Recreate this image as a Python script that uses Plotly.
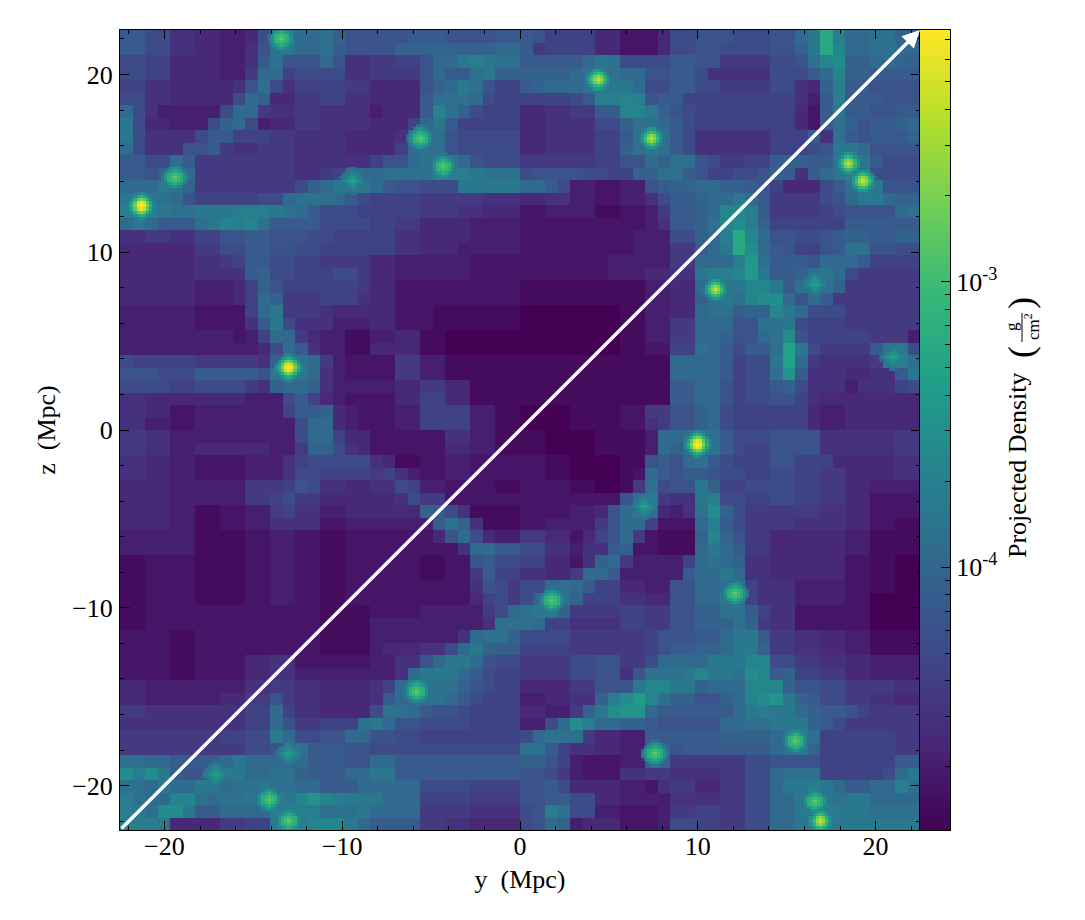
import plotly.graph_objects as go
from plotly.subplots import make_subplots
import math

DENSITY_ROWS = [
"aa 88 55 44 33 48deccdb 9999 9a aa 9999 aa | a9 7777 44 222 4 88 99 9 888 99 cel fcc dd bb",
"aa 88 55 44 33 59deccda 9999 bbbbbbbb cc | a6 7777 44 222 4 88 99 8888 99 b e l g cc dd cc",
"88 77 44 44 33 5ad999c9 5566 77 9cc efedd | aaaa a c e d 8 888 aa 99 6666 88 9d g h bb cc bb",
"88 77 44 44 33 6cc7 8888 5566 66 9c aa de bb | bbbb c d e d cc 99 aa 8 55555 88 8a c g bb aaaa",
"77 55 44 444 5 9d85 7777 66 4444 9bc ed9 77 | a b cc c d e e e c 88 aa 88 6666 88 5 4 b f aa 9999",
"88 55 44 44 4 8 cb44 6677 55 4444 ad dd c 877 | 7777 8 a f f g f 9 a a 7 77 7777 77 5 3 a f aaa999",
"c8 5 33333 8 cc 6 55 66 5555 3444 a g d b 8777 | 44 5566 aa gg e b 9 8 77777777 4 2 a e aa 99 aa",
"e8 44 333 8 b c 8 3 44 66 5555 444 7 c e a 77777 | 44 5555 88 b d d c a 8 77777777 4 2 a d b 9 aa b c",
"e8 55 55 8 aa 777 66 55 55 44 44 5 b d d 9 88888 | 44 5555 77 a d e d a 8 555555 777 a 5 d a 9 aaab",
"c8 55 5 99 a 6 55 666 55 55 44 44 7 c d d 9 88888 | 44 5555 77 b d e d a 8 555555 777 8 9 e e c 9999",
"aa 88 c a 6 6666666 55 5555 7 99 c d e e c 9888 | 6666 6677 99 c b dd 9 8 66 77 a bb a a e f e a 888",
"aa 9 b d c 6 6666666 55 6 7 a cc d dd d g f f e ddd | 89 99 988 77 bb dd a 9 77 88 9 b a 5 a c e f e 8888",
"ccc e d b 666666 66 8 b c e e e c a 99888 eeeee | cc a 8 33 22 33 9 a bb c c bb a9 7 44 4 8 a d f e 999",
"e f e d c 9 77777 88 c d d d c a 8 7777 666 66555 | 44 55 33 22 33 5 8 aa bc c e c a 6666 89 c e e cbb",
"f f f e d d e ee ff f e d c a 888 77777 666 55444 | 22 33 33 1122 3 6 aa bc gg f a 6666 78 9999 c d",
"c e c aaa de gfg d aa aa 8888 7766 44443333 | 222222 2222 3 5 aa bd gh f b 7777 77 aaaaaa",
"55 66 55 77 99 aa 999 88 77777 55 44443333 | 222222222 33 3 88 bc f l g c 99 88 9a bb aabb",
"444444 66 88 aa 99 88 7777 77 55 44433333 | 222222222 333 66 ac e l h c a9 77 9 a dd 9988",
"444444 55 6 7 aa 88 77 6666 44 33 33332222 | 222222 2333 33 66 c c c f j d aa a9 cc c a 7777",
"444444 55 5 5 a b 88 77 7 8 8 6 44 33 33332222 | 222222 2333 44 55 e f f g j e aa b d e c 8 66666",
"4444 44 33 34 7 b 9 777 777 6 44 222 2222222 | 11111111 11 33 44 c d e e gg e a d e d b 666666",
"4444 44 33 34 7 c b 666 777 5 44 222 2222222 | 11111111 11 33 44 b d e d gh h c 9 c a 6666666",
"3333 33 2222 7 c e 666 5 444 44 222 1111111 | 00000000 11 33 44 cd d a bb g e c 888 666666",
"3333 33 22 22 5 a e 8 555 333 44 222 1111111 | 00000000 11 33 66 cc c 9 9 d d e 8 777666666",
"3333 33 33 3 2 3 7 cc 6 4 33 11 3344 11 000000 | 00000000 11 33 66 cc b 9 9 cd h 9 777776663",
"3333 33 33 33 3 4 8 c a 5 33 11 4444 11 000000 | 00000000 11 22 77 dc a 8 aa d k e 8 6666 a e e 8",
"8 77777 66666 5 b d d c 6 32222 66 33 111111 | 111111111 11 1 cc cc a 7 88 e k c 6 55 55 6 e f d",
"9 99888 aaaaa 9 e e e c 5 32222 66 33 111111 | 111111111111 cc cc a 7 88 d i a 5 55 44 55 a e",
"8 88877 8888 6 5 b c c b 5 33333 44 66 44 1111 | 111111111111 aa cc 9 7 88 a b 8 5 55 3 555 78",
"55 44 4444 44 33 3 8 a 7 4 32222 44 77 44 1111 | 111111111111 aa cc 9 7 88 99 7 5 44444444",
"55 44 22 33 33 33 37 a ab 4 32 22 33 7777 33 11 | 0000 1111 22 66 99 bc 8 777 777 4 33 444444",
"55 33 22 33 33 33 33 8 cc 4 32 22 33 7777 33 11 | 0000 1111 22 56 99 bc 8 777 777 4 33 444444",
"66 55 33 3333 3333 8 cc 7 44 22 22 22 55 33 11 | 11 00 00 11 11 3 c c d e d a 888 9999 5555 5566",
"66 55 33 444444 33 6 bb 8 5 4 2222 22 44 33 11 | 11 00 00 11 11 3 c b d e d a 8 77 9999 5555 5566",
"55 44 33 2222 33 35 78 888 8 5 4 11 22 33 2222 | 22 11 0000 11 9 a 9 c d a 8 777 99 777 4 4444 55",
"55 44 33 2222 33 3 5 88 7 777 6 7 5 3 22 33 2222 | 22 11 0000 12 c a 9 a a 9 88 77 88 7766 4444 55",
"44 44 33 3333 66 67 98 55 44 55 8 7 33 222211 | 22 22 1100 1 6 d 8 9 9 e b 77 88 88 7766 44 3333",
"44 44 33 3333 66 78 66 4444 44 5 8 66 22 2222 | 2222 2222 9 d e 6 55 e f 88 7788 7766 44 2222",
"4444 33 1122 33 67 55 33 4444 44 b a 8 5 1111 | 2222 33 4 9 c e d 4 3 5 d h b 8 66666655 44 2222",
"4444 33 1122 33 55 55 22 3333 33 3 a d b 5 111 | 2233 33 6 9 c c 7 2 22 c f a 8 66665555 44 2211",
"33 33 33 1111 22 33 22 1122 2222 2 4 9 c 8 4 33 | 66 44 2 4 7 9 c 6 2111 b g b 9 66 444444 33 1111",
"333333 1111 22 33 22 1122 2222 222 5 cc aa | 88 55 3 5 5 a b 2 2111 c e c a 66 444444 33 1111",
"11 22 22 1111 22 33 22 1122 2222 11 22 9 a 8 8 | 7744 2 5 b c 6 3333 7 c d c b 55 444444 22 1100",
"11 22 22 1111 22 33 22 1122 2222 11 22 6 a 7 7 | 5544 6 cc a 33333 a c c e c 55 444444 22 1100",
"11 2222 1111 22 33 22 1122 2222 2222 5 9 8 6 | 88 c d c a 77 44 33 99 cc d d 7 555 3333 22 1100",
"11 2222 1111 22 33 22 1122 2222 2222 4 7 8 6 | 8 b d d b 777 55 44 99 cc e d 7 555 3333 22 0000",
"11 22 22 2222 22 22 22 1111 2222 3333 3 6 8 c | d e e b 6666 7766 99 bb d d a 7 55 222222 0000",
"11 22 22 2222 22 22 22 1111 3333 3333 3 5 d d | dc 77 55 55 7766 99 bb bd b 6 55 222222 0000",
"2222 11 22 222222 22 1111 3333 333 5 c d d b | 8888 6666 667 9 99 aa c ee a 66 55 44 33 1111",
"2222 11 22 222222 22 1111 3444 5 5 8 c e b aa | 7777 6666 667 9 aa bb c ee b 66 55 44 33 1111",
"22 22 11 22 22 44 55 22 2222 33 55 9 c e e c 9 8 8 | 6666 88 99 66 8 c cc c ee e gg 88 66 55 44 3333",
"22 22 11 22 22 44 55 33 3333 33 5 c e e e c a 8 77 | 6666 88 99 5 9 dd de g ee d h g ab 77 66 44 3333",
"44 33 33 33 33 55 66 55 4444 5 7 c e e d d b 9 877 | 4444 66 99 9 e g g ee b cc c g g g b 99 88 6666 55",
"44 33 33 33 44 66 9 6 55 4444 5 a c d d d c a 8 777 | 3344 55 b f h j g d bb 99 bc g h i e b a 88 6655 44",
"6655 5555 55 77 c 7 55 4444 8 d d c a 998 7777 | 44 33 6 b e h i i c a aa aa ac e f ee c b aa 9 7 6666",
"5555 5555 55 77 c 9 66 777 d e c 99 88 88 7777 | 33 8 c h f c c b b a 9 99 99 cc dd e e e b a866 6666",
"666666 6677 88 e c 88 99 cc 99 88 77777777 | 8 c dd d 6 44 33 a a aaaa bbbb c d e d 7777 7766",
"6666 6666 66 88 9 d d a aa 99 8888 88888888 | dd a 7 55 44 33 b c 9 aaa aaaa c d e b 7777 7766",
"dd cc aaaa ce cc cc c aaa 99 cc aaaaaaaaaa | bb 9 7 3 222 33 a b 6666 66 88 99 99 7777 77 aa",
"h f h e a99 d e e cc dd b aaa cc ee aaaaaaaaaa | 99 8 6 3222 55 66 5555 66 88 c d dd 7777 7 8 c e",
"d d c e cc e e c dd e dd cc aaa ccccc 88887777 | 99 a 8 4444 33 2 5 66 44 66 88 c e e f e c aa cc f d",
"f d c c gg dc dd ef f e g i gf e ee ccc 77776666 | 99 aa 88 44 3333 55 55 66 88 cc e f e d ee cccc",
"f e d hh e aa cccc f f f f d dde cccc 66665555 | 8 9 f d 88 3 3 22 2 3 66 77 66 88 cc e f f e ee dddd",
"f ff e 44 44 66 77 e f f gg g e c aaaa 66554444 | 8 9 c b 3 444 22 2 3 88 77 66 88 cc e f f e eeeeee",
]
LEVELS = "0123456789abcdefghijklmnopqrstuvwxyz"
LOG_MIN = -4.92
LOG_MAX = -2.12
LEVEL_STEP = 0.08
EXTENT = 22.5

PEAK_Y = [-13.4, -19.4, -21.3, -13.0, -5.6, -4.3, -9.4, 4.4, 7.4, 18.5, 19.3, 11.0, 16.6, 21.0,
          -5.8, -13.0, -17.1, -14.1, -13.0, 10.0, 7.0, 1.8, 12.1, 15.5, 7.6, 16.6, 16.9]
PEAK_Z = [22.0, 14.2, 12.6, 3.5, 16.4, 14.8, 14.0, 19.7, 16.4, 15.0, 14.0, 7.9, 8.2, 4.1,
          -14.7, -18.2, -19.4, -20.8, -22.0, -0.8, -4.3, -9.6, -9.2, -17.5, -18.2, -20.9, -22.0]
PEAK_KIND = ["weak", "weak", "bright", "bright", "weak", "weak", "faint", "mid", "mid", "mid", "mid", "mid", "faint", "faint",
             "weak", "faint", "faint", "weak", "weak", "bright", "faint", "weak", "weak", "weak", "weak", "weak", "mid"]
PEAK_MAPS = {
    "bright": ["...ghg...", "..hkmkh..", ".hmqsqmh.", "gkqwywqkg", "hmsyzysmh", "gkqwywqkg", ".hmqsqmh.", "..hkmkh..", "...ghg..."],
    "mid":    ["...ded...", "..fijif..", ".fjmomjf.", "dimrtrmid", "ejotwtoje", "dimrtrmid", ".fjmomjf.", "..fijif..", "...ded..."],
    "weak":   ["...ded...", "..fhihf..", ".fikmkif.", "dhmnonmhd", "eimoqomie", "dhmnonmhd", ".fikmkif.", "..fhihf..", "...ded..."],
    "faint":  ["...cdc...", "..defed..", ".defhfed.", "cefhihfec", "dfhjkjhfd", "cefhihfec", ".defhfed.", "..defed..", "...cdc..."],
}
CB_MAJOR = [1e-4, 1e-3]
CB_MAJOR_TEXT = ["10<sup>-4</sup>", "10<sup>-3</sup>"]
CB_MINOR = [2e-5, 3e-5, 4e-5, 5e-5, 6e-5, 7e-5, 8e-5, 9e-5, 2e-4, 3e-4, 4e-4, 5e-4, 6e-4, 7e-4, 8e-4, 9e-4,
            2e-3, 3e-3, 4e-3, 5e-3, 6e-3, 7e-3]
X_LABEL = "y  (Mpc)"
Y_LABEL = "z  (Mpc)"
CB_LABEL = "Projected Density"

FONT = "Liberation Serif"

def level(ch):
    return LOG_MIN + LEVELS.index(ch) * LEVEL_STEP

grid = []
bad = []
for i, row in enumerate(DENSITY_ROWS):
    a, b = row.replace(" ", "").split("|")
    if len(a) != 32 or len(b) != 32:
        bad.append((i, len(a), len(b)))
    grid.append([level(c) for c in a + b])
if bad or len(grid) != 64:
    raise SystemExit("bad rows: %r, n=%d" % (bad, len(grid)))

n = 64
cell = 2 * EXTENT / n
xs = [-EXTENT + cell * (i + 0.5) for i in range(n)]
ys = [EXTENT - cell * (i + 0.5) for i in range(n)]

fig = make_subplots(rows=1, cols=2, column_widths=[800, 30], horizontal_spacing=0)
fig.add_trace(go.Heatmap(x=xs, y=ys, z=grid, coloraxis="coloraxis", hoverinfo="skip"), row=1, col=1)

fine = cell / 4
for py, pz, kind in zip(PEAK_Y, PEAK_Z, PEAK_KIND):
    m = PEAK_MAPS[kind]
    z = []
    for j, r in enumerate(m):
        line = []
        for i, c in enumerate(r):
            px_y = py + (i - 4) * fine
            px_z = pz - (j - 4) * fine
            ci = min(n - 1, max(0, int((px_y + EXTENT) / cell)))
            cj = min(n - 1, max(0, int((EXTENT - px_z) / cell)))
            if c == "." or level(c) <= grid[cj][ci]:
                line.append(None)
            else:
                line.append(level(c))
        z.append(line)
    fig.add_trace(go.Heatmap(
        x=[py + (i - 4) * fine for i in range(9)],
        y=[pz - (i - 4) * fine for i in range(9)],
        z=z, coloraxis="coloraxis", hoverinfo="skip", hoverongaps=False), row=1, col=1)

# colour ramp drawn on its own axis so it can carry major and minor ticks
steps = 256
ramp_edges = [LOG_MIN + (LOG_MAX - LOG_MIN) * i / steps for i in range(steps + 1)]
ramp_z = [[(ramp_edges[i] + ramp_edges[i + 1]) / 2] for i in range(steps)]
fig.add_trace(go.Heatmap(x=[0, 1], y=ramp_edges, z=ramp_z, coloraxis="coloraxis", hoverinfo="skip"), row=1, col=2)

common = dict(showgrid=False, zeroline=False, showline=True, linecolor="black", linewidth=1,
              tickcolor="black", tickfont=dict(family=FONT, size=26, color="black"))
main = dict(common, range=[-EXTENT, EXTENT], mirror="allticks", ticks="inside", ticklen=9, tickwidth=1,
            tick0=0, dtick=10, minor=dict(ticks="inside", ticklen=4, tickwidth=1, tickcolor="black", dtick=2, tick0=0),
            title_font=dict(family=FONT, size=26, color="black"))

fig.update_layout(
    width=1077, height=912, margin=dict(l=112, r=135, t=22, b=90),
    paper_bgcolor="white", plot_bgcolor="white", showlegend=False,
    font=dict(family=FONT, color="black"),
    xaxis=dict(main, title=dict(text=X_LABEL, standoff=9), ticklabelstandoff=-7),
    yaxis=dict(main, title=dict(text=Y_LABEL, standoff=9), ticklabelstandoff=1),
    xaxis2=dict(common, range=[0, 1], showticklabels=False, ticks="", mirror=True),
    yaxis2=dict(common, range=[LOG_MIN, LOG_MAX], side="right", mirror=True, ticks="inside", ticklen=9, tickwidth=1,
                tickmode="array", tickvals=[math.log10(v) for v in CB_MAJOR], ticktext=CB_MAJOR_TEXT,
                minor=dict(ticks="inside", ticklen=5, tickwidth=1, tickcolor="black", tickmode="array",
                           tickvals=[math.log10(v) for v in CB_MINOR])),
    coloraxis=dict(colorscale="Viridis", cmin=LOG_MIN, cmax=LOG_MAX, showscale=False),
)

def px(xp):
    return (xp - 120) / 830

def py_(yp):
    return (830 - yp) / 800

def rot(text, xp, yp, size, angle=-90):
    fig.add_annotation(x=px(xp), y=py_(yp), xref="paper", yref="paper", text=text, showarrow=False,
                       textangle=angle, font=dict(family=FONT, size=size, color="black"),
                       xanchor="center", yanchor="middle")

rot(CB_LABEL, 1018, 465, 26)
rot("(", 1021, 352, 36)
rot(")", 1021, 303, 36)
rot("g", 1011, 327, 17)
rot("cm<sup>2</sup>", 1032, 327, 17)
fig.add_shape(type="line", xref="paper", yref="paper", x0=px(1022), x1=px(1022), y0=py_(313), y1=py_(342),
              line=dict(color="black", width=1))

fig.add_annotation(x=EXTENT, y=EXTENT, ax=-EXTENT, ay=-EXTENT, xref="x", yref="y", axref="x", ayref="y",
                   text="", showarrow=True, arrowhead=2, arrowsize=1, arrowwidth=3.5, arrowcolor="white", standoff=0)

fig.write_html("out.html")
